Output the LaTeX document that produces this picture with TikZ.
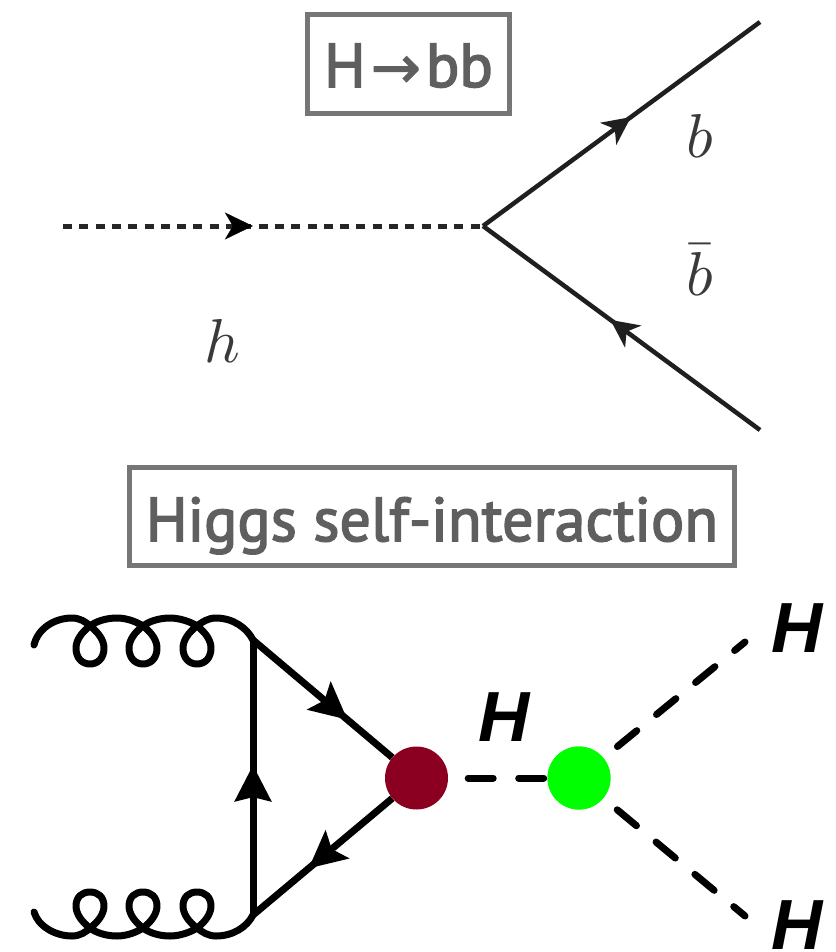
\documentclass[tikz,border=0pt]{standalone}
\usepackage{fontspec}
\setmainfont{PT Sans}
\newfontfamily\titlefont[FakeBold=2.5]{PT Sans}
\newfontfamily\arrowfont[FakeBold=1.5]{DejaVu Sans}
\newfontfamily\hfont{Liberation Sans}
\usetikzlibrary{arrows.meta,decorations.markings}
\definecolor{boxgray}{HTML}{767676}
\definecolor{txtgray}{HTML}{5F5F5F}
\definecolor{labgray}{HTML}{3A3A3A}
\definecolor{redv}{HTML}{8B0020}
\definecolor{greenv}{HTML}{00FF00}
\tikzset{
 titlebox/.style={draw=boxgray,line width=5pt,text=txtgray,font=\titlefont\fontsize{62}{62}\selectfont,inner xsep=0pt,inner ysep=0pt,anchor=center},
 hlabel/.style={font=\hfont\fontsize{71}{71}\selectfont\bfseries\itshape,inner sep=0pt,text=black},
 mlabel/.style={inner sep=0pt,text=labgray},
 vertex/.style={circle,inner sep=0pt,minimum size=63pt},
 fermion/.style={line width=7pt,black},
 thinfermion/.style={line width=4.5pt,draw=black!88},
 scalardash/.style={line width=7pt,black,line cap=round,dash pattern=on 25pt off 25.5pt},
 gluon/.style={line width=7pt,black,line cap=round,line join=round},
 flow/.style={postaction={decorate},decoration={markings,mark=at position #1 with {\arrow{Stealth[length=37pt,width=36pt,inset=7pt]}}}},
 thinflow/.style={postaction={decorate},decoration={markings,mark=at position #1 with {\arrow{Stealth[length=28pt,width=27pt,inset=8pt]}}}},
}
\begin{document}
\begin{tikzpicture}[x=1pt,y=-1pt]
\useasboundingbox (0,0) rectangle (835,952);
\fill[white] (0,0) rectangle (835,952);
% top diagram
\coordinate (hin) at (63,226);
\coordinate (v) at (483,226);
\coordinate (bo) at (760,22);
\coordinate (bbar) at (760,430);
\draw[line width=5pt,draw=black!85,dash pattern=on 9pt off 7.3pt] (hin) -- (v);
\draw[draw=none,thinflow=0.452] (hin) -- (v);
\draw[thinfermion,thinflow=0.534] (v) -- (bo);
\draw[thinfermion,thinflow=0.54] (bbar) -- (v);
\node[titlebox,minimum width=202pt,text height=72.5pt,text depth=26.5pt] (t1) at (408.5,64) {H\kern5pt{\arrowfont\fontsize{60}{60}\selectfont\raisebox{-1pt}{→}}\kern5pt bb};
\node[titlebox,minimum width=605pt,text height=73.5pt,text depth=24.5pt] (t2) at (432,516.5) {Higgs self-interaction};
\node[mlabel] (lh) at (222,341) {\scalebox{6.2}{$h$}};
\node[mlabel] (lb) at (700,136) {\scalebox{6.2}{$b$}};
\node[mlabel] (lbb) at (700,270) {\scalebox{6.2}{$\bar b$}};
% bottom diagram
\node[vertex,fill=redv] (r) at (416.5,778) {};
\node[vertex,fill=greenv] (g) at (579,778) {};
\coordinate (ta) at (253,640);
\coordinate (tb) at (253,915);
\draw[fermion,flow=0.678] (ta) -- (r);
\draw[fermion,flow=0.60] (r) -- (tb);
\draw[fermion,postaction={decorate},decoration={markings,mark=at position 0.545 with {\arrow{Stealth[length=36pt,width=36pt,inset=4pt]}}}] (tb) -- (ta);
\node[hlabel] (hm) at (504,717.5) {H};
\node[hlabel] (hu) at (797.5,628.5) {H};
\node[hlabel] (hd) at (797.5,925.5) {H};
\coordinate (eu) at (745,642);
\coordinate (ed) at (745,916);
\draw[scalardash,shorten <=20pt] (r) -- (g);
\draw[scalardash,shorten <=18pt] (g) -- (eu);
\draw[scalardash,shorten <=18pt] (g) -- (ed);
\node[vertex,fill=greenv] at (g) {};
\draw[gluon] (34,645) .. controls (38,628) and (55,618) .. (72,618) .. controls (80,618) and (86,622) .. (90,626)
 .. controls (98,632) and (104,640) .. (104,648) .. controls (104,658) and (98,664) .. (90,664)
 .. controls (82,664) and (76,658) .. (76,648) .. controls (76,640) and (82,632) .. (90,626)
 .. controls (95,622) and (105,618) .. (117,618) .. controls (127,618) and (137,622) .. (143,626)
 .. controls (151,632) and (157,640) .. (157,648) .. controls (157,658) and (151,664) .. (143,664)
 .. controls (135,664) and (129,658) .. (129,648) .. controls (129,640) and (135,632) .. (143,626)
 .. controls (148,622) and (158,618) .. (170,618) .. controls (180,618) and (191,622) .. (197,626)
 .. controls (205,632) and (211,640) .. (211,648) .. controls (211,658) and (205,664) .. (197,664)
 .. controls (189,664) and (183,658) .. (183,648) .. controls (183,640) and (189,632) .. (197,626)
 .. controls (202,622) and (208,618) .. (216,618) .. controls (233,618) and (247,628) .. (ta);
\draw[gluon] (34,912) .. controls (38,926) and (55,936) .. (72,936) .. controls (80,936) and (86,932) .. (90,928)
 .. controls (98,922) and (104,914) .. (104,906) .. controls (104,897) and (98,892) .. (90,892)
 .. controls (82,892) and (76,897) .. (76,906) .. controls (76,914) and (82,922) .. (90,928)
 .. controls (95,932) and (105,936) .. (117,936) .. controls (127,936) and (137,932) .. (143,928)
 .. controls (151,922) and (157,914) .. (157,906) .. controls (157,897) and (151,892) .. (143,892)
 .. controls (135,892) and (129,897) .. (129,906) .. controls (129,914) and (135,922) .. (143,928)
 .. controls (148,932) and (158,936) .. (170,936) .. controls (180,936) and (191,932) .. (197,928)
 .. controls (205,922) and (211,914) .. (211,906) .. controls (211,897) and (205,892) .. (197,892)
 .. controls (189,892) and (183,897) .. (183,906) .. controls (183,914) and (189,922) .. (197,928)
 .. controls (202,932) and (208,936) .. (216,936) .. controls (233,936) and (247,927) .. (tb);
\end{tikzpicture}
\end{document}
